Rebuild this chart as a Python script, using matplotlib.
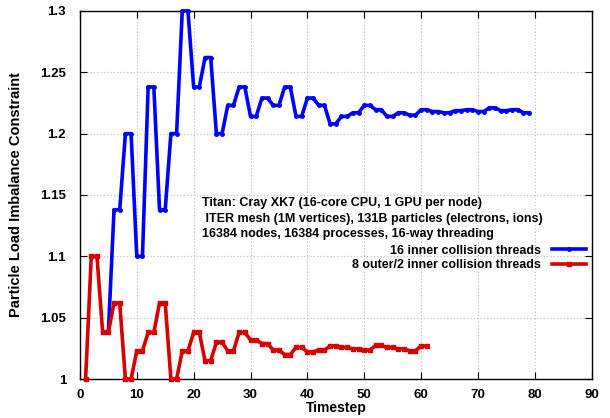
import matplotlib.pyplot as plt
from matplotlib.lines import Line2D

plt.rcParams['font.family'] = ['Liberation Sans', 'DejaVu Sans']
plt.rcParams['font.weight'] = 'bold'

# data (load imbalance per timestep)
steps_16 = list(range(5, 80))
imb_16 = [1.038,
          1.138, 1.138, 1.2, 1.2, 1.1, 1.1, 1.238, 1.238, 1.138, 1.138,
          1.2, 1.2, 1.3, 1.3, 1.238, 1.238, 1.262, 1.262, 1.2, 1.2,
          1.223, 1.223, 1.238, 1.238, 1.214, 1.214, 1.229, 1.229, 1.223, 1.223,
          1.238, 1.238, 1.214, 1.214, 1.229, 1.229, 1.223, 1.223, 1.208, 1.208,
          1.214, 1.214, 1.217, 1.217, 1.223, 1.223, 1.2195, 1.2195, 1.214, 1.214,
          1.217, 1.217, 1.215, 1.215, 1.2195, 1.2195, 1.218, 1.218, 1.217, 1.217,
          1.2187, 1.2187, 1.2195, 1.2195, 1.218, 1.218, 1.221, 1.221, 1.2187, 1.2187,
          1.2195, 1.2195, 1.217, 1.217]

steps_8x2 = list(range(1, 62))
imb_8x2 = [1.0,
           1.1, 1.1, 1.038, 1.038, 1.062, 1.062, 1.0, 1.0, 1.023, 1.023,
           1.038, 1.038, 1.062, 1.062, 1.0, 1.0, 1.023, 1.023, 1.038, 1.038,
           1.015, 1.015, 1.030, 1.030, 1.023, 1.023, 1.038, 1.038, 1.032, 1.032,
           1.029, 1.029, 1.0236, 1.0236, 1.020, 1.020, 1.0258, 1.0258, 1.0222, 1.0222,
           1.0236, 1.0236, 1.027, 1.027, 1.0258, 1.0258, 1.0246, 1.0246, 1.0236, 1.0236,
           1.0274, 1.0274, 1.0258, 1.0258, 1.0246, 1.0246, 1.023, 1.023, 1.027, 1.027]

labels = ['16 inner collision threads', '8 outer/2 inner collision threads']
info = ['Titan: Cray XK7 (16-core CPU, 1 GPU per node)',
        ' ITER mesh (1M vertices), 131B particles (electrons, ions)',
        '16384 nodes, 16384 processes, 16-way threading']

fig = plt.figure(figsize=(6.1, 4.18), dpi=100)
ax = fig.add_axes([0.131, 0.093, 0.839, 0.881])

ax.plot(steps_16, imb_16, color='#0000ff', lw=2.6, marker='o', ms=2.5,
        clip_on=False, zorder=3)
ax.plot(steps_8x2, imb_8x2, color='#d80000', lw=2.6, marker='s', ms=3,
        clip_on=False, zorder=3)

ax.set_xlim(0, 90)
ax.set_ylim(1.0, 1.3)
ax.set_xticks(range(0, 91, 10))
ax.set_yticks([1.0, 1.05, 1.1, 1.15, 1.2, 1.25, 1.3])
ax.set_yticklabels(['1', '1.05', '1.1', '1.15', '1.2', '1.25', '1.3'])
ax.tick_params(direction='in', top=True, right=True, length=5,
               labelsize=9.5)
ax.tick_params(axis='y', pad=10)
ax.tick_params(axis='x', pad=7)
ax.grid(True, color='#bbbbbb', linestyle=(0, (1, 2)), lw=0.8)
for s in ax.spines.values():
    s.set_linewidth(1.0)

ax.set_xlabel('Timestep', fontsize=10, fontweight='bold', labelpad=0)
ax.set_ylabel('Particle Load Imbalance Constraint', fontsize=10.5,
              fontweight='bold', labelpad=12)

ys = [0.477, 0.436, 0.394]
for t, y in zip(info, ys):
    ax.text(0.238, y, t, transform=ax.transAxes, fontsize=9,
            fontweight='bold', va='center', ha='left')

handles = [Line2D([], [], color='#0000ff', lw=2.6, marker='o', ms=2.5),
           Line2D([], [], color='#d80000', lw=2.6, marker='s', ms=3)]
ax.legend(handles, labels, loc='upper right', bbox_to_anchor=(0.988, 0.365),
          frameon=False, markerfirst=False, handlelength=2.7,
          handletextpad=0.9, labelspacing=0.2, borderpad=0, borderaxespad=0,
          prop={'weight': 'bold', 'size': 9})

fig.savefig('out.png', dpi=100)
